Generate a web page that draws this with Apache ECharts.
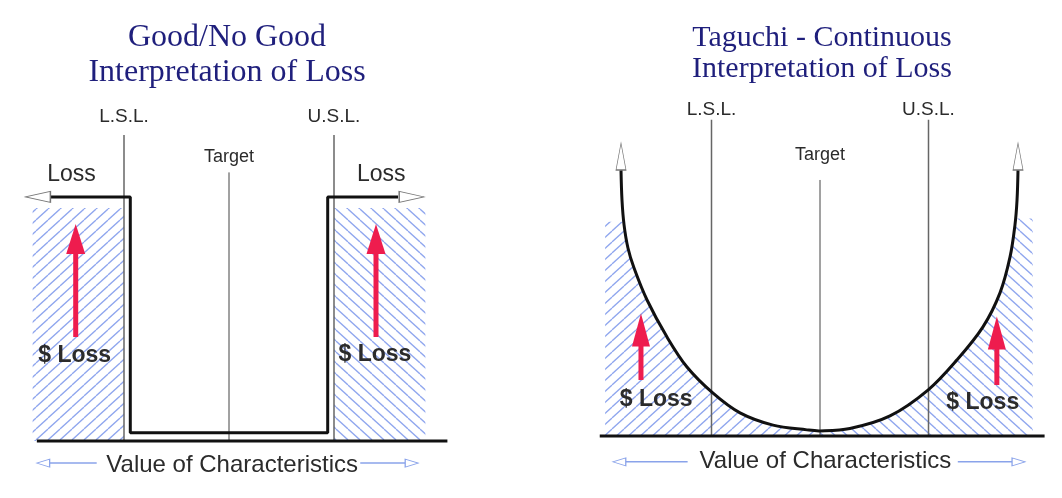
<!DOCTYPE html>
<html>
<head>
<meta charset="utf-8">
<script src="https://cdn.jsdelivr.net/npm/echarts@6/dist/echarts.min.js"></script>
<style>
  html, body { margin: 0; padding: 0; background: #fff; }
  #chart { width: 1062px; height: 498px; }
</style>
</head>
<body>
<div id="chart"></div>
<script>
// x: target = 0, spec limits at -1 / +1 ; y: loss, 0 on the baseline
const specLimits = [-1, 1]
const targetValue = 0

// left panel: good / no good step loss
const stepLoss = [[-1.70, 71.8], [-0.94, 71.8], [-0.94, 2.4], [0.94, 2.4], [0.94, 71.8], [1.61, 71.8]]
const stepHatchLeft = [[-1.87, 68.5], [-1.0, 68.5]]
const stepHatchRight = [[1.0, 68.5], [1.87, 68.5]]

// right panel: taguchi loss curve
const curveLeft = [
  [-1.834, 78.2], [-1.825, 69.4], [-1.806, 62.1], [-1.770, 55.3], [-1.714, 49.4],
  [-1.594, 40.0], [-1.410, 29.1], [-1.226, 20.3], [-0.986, 12.6], [-0.737, 6.8], [-0.433, 3.2],
  [-0.120, 1.8], [0, 1.5]
]
const curveRight = [
  [0.276, 2.2], [0.645, 5.9], [0.995, 13.5], [1.263, 22.4], [1.502, 32.1], [1.659, 42.1],
  [1.751, 52.6], [1.797, 62.1], [1.816, 69.4], [1.825, 78.2]
]
const hatchTop = [63, 64]
const hatchEdge = [-1.98, 1.96]

const titles = ['Good/No Good\nInterpretation of Loss', 'Taguchi - Continuous\nInterpretation of Loss']
const axisLabel = 'Value of Characteristics'

const taguchiCurve = curveLeft.concat(curveRight)
const taguchiHatchLeft = [[hatchEdge[0], hatchTop[0]], [-1.808, hatchTop[0]]].concat(curveLeft.slice(2))
const taguchiHatchRight = [[0, 1.5]].concat(curveRight.slice(0, -2), [[1.80, hatchTop[1]], [hatchEdge[1], hatchTop[1]]])

function makeHatch(dir) {
  const w = 12, h = 11
  const c = document.createElement('canvas')
  c.width = w; c.height = h
  const ctx = c.getContext('2d')
  ctx.strokeStyle = '#8fa6ee'
  ctx.lineWidth = 1.3
  for (const k of [-1, 0, 1]) {
    ctx.beginPath()
    if (dir > 0) { ctx.moveTo(k * w, h); ctx.lineTo(k * w + w, 0) }
    else { ctx.moveTo(k * w, 0); ctx.lineTo(k * w + w, h) }
    ctx.stroke()
  }
  return { image: c, repeat: 'repeat' }
}
const hatchUp = makeHatch(1)
const hatchDown = makeHatch(-1)

const line = (gi, data, color, width, z, extra) => Object.assign({
  type: 'line', xAxisIndex: gi, yAxisIndex: gi, data, symbol: 'none', silent: true,
  lineStyle: { color, width }, z
}, extra || {})

const hatch = (gi, data, pattern) => line(gi, data, 'transparent', 0, 1, {
  areaStyle: { color: pattern, opacity: 1, origin: 0 }
})

const head = (gi, points, size, color, border, rotate) => ({
  type: 'scatter', xAxisIndex: gi, yAxisIndex: gi, silent: true, z: 6,
  symbol: 'triangle', symbolSize: size, symbolRotate: rotate || 0,
  itemStyle: { color, opacity: 1, borderColor: border, borderWidth: border ? 1 : 0 },
  data: points
})

const texts = (gi, items) => ({
  type: 'scatter', xAxisIndex: gi, yAxisIndex: gi, silent: true, z: 8,
  symbolSize: 1, itemStyle: { color: 'transparent', opacity: 1 },
  label: { show: true, position: 'inside', formatter: '{b}', color: '#2b2b2b', fontFamily: 'Liberation Sans' },
  data: items.map(([name, x, y, size, weight]) => ({
    name, value: [x, y], label: { fontSize: size, fontWeight: weight || 'normal' }
  }))
})

// smooth curve through the read points, placed with the axes' own scales
const smoothCurve = (gi, points, color, width) => ({
  type: 'custom', xAxisIndex: gi, yAxisIndex: gi, silent: true, z: 3,
  data: [points[0]],
  renderItem: (params, api) => ({
    type: 'polyline',
    shape: { points: points.map(p => api.coord(p)), smooth: 0.35 },
    style: { stroke: color, lineWidth: width, fill: null }
  })
})

const red = '#ee1c4e'
const blue = '#8aa3ea'

const series = [
  // ---- left panel ----
  hatch(0, stepHatchLeft, hatchUp),
  hatch(0, stepHatchRight, hatchDown),
  line(0, [[specLimits[0], 0], [specLimits[0], 90]], '#666', 1.5, 2),
  line(0, [[specLimits[1], 0], [specLimits[1], 90]], '#666', 1.5, 2),
  line(0, [[targetValue, 0], [targetValue, 79]], '#444', 1, 2),
  line(0, stepLoss, '#111', 3, 3),
  line(0, [[-1.83, 0], [2.08, 0]], '#111', 3, 3),
  head(0, [[-1.82, 71.8]], [11, 25], '#fff', '#777', 90),
  head(0, [[1.74, 71.8]], [11, 25], '#fff', '#777', -90),
  line(0, [[-1.46, 30.6], [-1.46, 56]], red, 5, 4),
  line(0, [[1.40, 30.6], [1.40, 56]], red, 5, 4),
  head(0, [[-1.46, 59.4], [1.40, 59.4]], [19, 30], red),
  line(0, [[-1.75, -6.5], [-1.26, -6.5]], blue, 1.5, 4),
  line(0, [[1.25, -6.5], [1.72, -6.5]], blue, 1.5, 4),
  head(0, [[-1.77, -6.5]], [8, 13], '#fff', blue, 90),
  head(0, [[1.74, -6.5]], [8, 13], '#fff', blue, -90),
  texts(0, [
    ['L.S.L.', specLimits[0], 95.3, 19],
    ['U.S.L.', specLimits[1], 95.3, 19],
    ['Target', targetValue, 83.5, 18],
    ['Loss', -1.50, 78.2, 23],
    ['Loss', 1.45, 78.2, 23],
    ['$ Loss', -1.47, 25, 23, 'bold'],
    ['$ Loss', 1.39, 25.3, 23, 'bold'],
    [axisLabel, 0.03, -7.1, 24]
  ]),
  // ---- right panel ----
  hatch(1, taguchiHatchLeft, hatchUp),
  hatch(1, taguchiHatchRight, hatchDown),
  line(1, [[specLimits[0], 0], [specLimits[0], 93]], '#666', 1.5, 2),
  line(1, [[specLimits[1], 0], [specLimits[1], 93]], '#666', 1.5, 2),
  line(1, [[targetValue, 0], [targetValue, 75.3]], '#444', 1, 2),
  smoothCurve(1, taguchiCurve, '#111', 3),
  line(1, [[-2.03, 0], [2.07, 0]], '#111', 3, 3),
  head(1, [[-1.834, 82.2], [1.825, 82.2]], [10, 27], '#fff', '#777'),
  line(1, [[-1.65, 16.5], [-1.65, 27]], red, 5, 4),
  line(1, [[1.63, 15], [1.63, 26.5]], red, 5, 4),
  head(1, [[-1.65, 31.2], [1.63, 30.3]], [18, 33], red),
  line(1, [[-1.83, -7.6], [-1.22, -7.6]], blue, 1.5, 4),
  line(1, [[1.27, -7.6], [1.81, -7.6]], blue, 1.5, 4),
  head(1, [[-1.85, -7.6]], [8, 13], '#fff', blue, 90),
  head(1, [[1.83, -7.6]], [8, 13], '#fff', blue, -90),
  texts(1, [
    ['L.S.L.', specLimits[0], 95.9, 19],
    ['U.S.L.', specLimits[1], 95.9, 19],
    ['Target', targetValue, 82.6, 18],
    ['$ Loss', -1.51, 10.6, 23, 'bold'],
    ['$ Loss', 1.50, 9.7, 23, 'bold'],
    [axisLabel, 0.05, -7.6, 24]
  ])
]

const chart = echarts.init(document.getElementById('chart'))
chart.setOption({
  animation: false,
  backgroundColor: '#fff',
  title: [
    {
      text: titles[0], left: 222, top: 15, textAlign: 'center',
      textStyle: { fontFamily: 'Liberation Serif', fontSize: 32, fontWeight: 'normal', color: '#1f1f7c', lineHeight: 35 }
    },
    {
      text: titles[1], left: 817, top: 18, textAlign: 'center',
      textStyle: { fontFamily: 'Liberation Serif', fontSize: 30, fontWeight: 'normal', color: '#1f1f7c', lineHeight: 31 }
    }
  ],
  grid: [
    { left: 19, width: 430.5, top: 101, height: 374 },
    { left: 581.3, width: 477.4, top: 96, height: 374 }
  ],
  xAxis: [
    { type: 'value', gridIndex: 0, min: -2, max: 2.1, show: false },
    { type: 'value', gridIndex: 1, min: -2.2, max: 2.2, show: false }
  ],
  yAxis: [
    { type: 'value', gridIndex: 0, min: -10, max: 100, show: false },
    { type: 'value', gridIndex: 1, min: -10, max: 100, show: false }
  ],
  series
})
</script>
</body>
</html>
